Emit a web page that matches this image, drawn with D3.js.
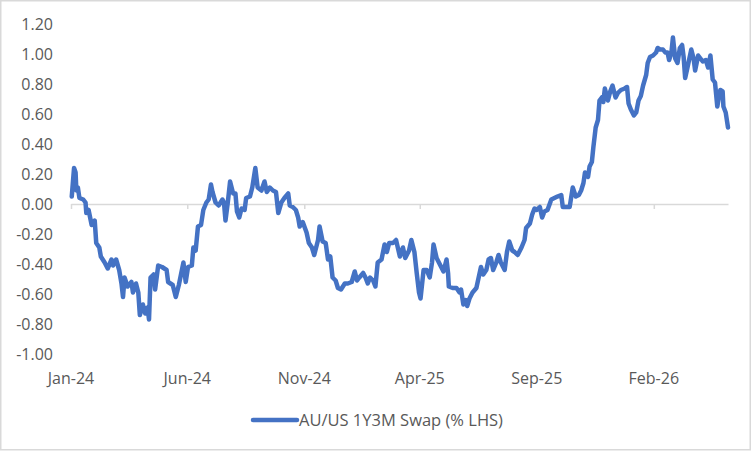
<!DOCTYPE html>
<html lang="en">
<head>
    <meta charset="UTF-8">
    <title>AU/US 1Y3M Swap</title>
    <script src="https://d3js.org/d3.v7.min.js"></script>
    <style>
        body { margin: 0; background: #ffffff; }
        text { font-family: "Open Sans", "Liberation Sans", sans-serif; fill: #595959; }
        .line { fill: none; stroke: #4472c4; stroke-width: 4.5px; stroke-linejoin: round; stroke-linecap: round; }
    </style>
</head>
<body>
    <div id="chart"></div>
    <script>
        // Series (% , by date)
        const days2024 = ["01-02","01-05","01-07","01-08","01-10","01-12","01-17","01-20","01-21","01-24","01-28",
            "02-01","02-03","02-07","02-09","02-14","02-18","02-23","02-25","02-29",
            "03-04","03-07","03-09","03-11","03-15","03-20","03-22","03-26","03-29","03-31",
            "04-04","04-07","04-10","04-12","04-14","04-18","04-20","04-24","04-29",
            "05-05","05-07","05-13","05-17","05-21","05-27","05-30",
            "06-02","06-07","06-09","06-12","06-15","06-19","06-22","06-26","06-29",
            "07-02","07-04","07-08","07-12","07-17","07-19","07-21","07-24","07-27","07-31",
            "08-03","08-05","08-08","08-11","08-15","08-17","08-22","08-25","08-29",
            "09-01","09-06","09-10","09-13","09-17","09-21","09-25","09-28",
            "10-02","10-06","10-11","10-13","10-17","10-21","10-24","10-26","10-30",
            "11-04","11-07","11-11","11-14","11-19","11-21","11-25","11-29",
            "12-02","12-05","12-08","12-12","12-15","12-19","12-24","12-28"];
        const swap2024 = [0.05,0.24,0.21,0.09,0.11,0.04,0.03,0.01,-0.06,-0.04,-0.14,
            -0.11,-0.26,-0.29,-0.35,-0.39,-0.43,-0.37,-0.41,-0.37,
            -0.44,-0.53,-0.62,-0.49,-0.55,-0.52,-0.59,-0.53,-0.59,-0.74,
            -0.67,-0.73,-0.69,-0.77,-0.49,-0.47,-0.57,-0.41,-0.42,
            -0.44,-0.52,-0.54,-0.62,-0.54,-0.39,-0.52,
            -0.42,-0.41,-0.29,-0.31,-0.15,-0.14,-0.04,0.01,0.03,
            0.13,0.08,0.01,-0.01,0.03,0.01,-0.11,0.01,0.15,0.07,
            0.07,-0.05,-0.09,-0.03,-0.04,0.04,0.05,0.11,0.24,
            0.11,0.09,0.15,0.08,0.11,0.09,0.08,-0.06,
            0.01,0.04,0.07,-0.01,-0.02,-0.04,-0.09,-0.15,-0.12,
            -0.19,-0.26,-0.29,-0.34,-0.24,-0.15,-0.25,-0.26,
            -0.37,-0.35,-0.49,-0.51,-0.56,-0.57,-0.53,-0.53];

        const days2025 = ["01-02","01-06","01-09","01-12","01-17","01-20","01-23","01-26","01-30",
            "02-02","02-05","02-10","02-14","02-17","02-20","02-25",
            "03-01","03-06","03-10","03-13","03-18","03-21","03-25","03-28","03-31",
            "04-02","04-06","04-10","04-14","04-17","04-19","04-23","04-26","04-29",
            "05-02","05-06","05-08","05-09","05-14","05-19","05-23","05-25","05-28","05-31",
            "06-02","06-05","06-09","06-14","06-17","06-20","06-23","06-27","06-30",
            "07-03","07-06","07-10","07-13","07-16","07-21","07-24","07-27","07-31",
            "08-03","08-07","08-12","08-16","08-18","08-23","08-26","08-29",
            "09-01","09-05","09-08","09-11","09-15","09-20","09-24","09-28",
            "10-03","10-05","10-09","10-14","10-18","10-22","10-26","10-29",
            "11-01","11-03","11-07","11-09","11-12","11-14","11-17","11-20","11-22","11-25","11-27","11-29",
            "12-03","12-06","12-09","12-13","12-16","12-20","12-25","12-28","12-30"];
        const swap2025 = [-0.52,-0.45,-0.51,-0.49,-0.46,-0.49,-0.53,-0.49,-0.51,
            -0.55,-0.39,-0.37,-0.27,-0.32,-0.26,-0.26,
            -0.24,-0.35,-0.29,-0.36,-0.31,-0.24,-0.32,-0.46,-0.59,
            -0.63,-0.44,-0.44,-0.49,-0.39,-0.27,-0.36,-0.39,-0.42,
            -0.45,-0.37,-0.46,-0.55,-0.56,-0.56,-0.59,-0.57,-0.67,-0.64,
            -0.68,-0.63,-0.59,-0.56,-0.49,-0.42,-0.47,-0.44,-0.37,
            -0.36,-0.44,-0.39,-0.34,-0.39,-0.44,-0.32,-0.25,-0.31,
            -0.32,-0.34,-0.29,-0.24,-0.16,-0.13,-0.07,-0.03,
            -0.04,-0.02,-0.09,-0.05,-0.04,0.03,0.04,0.05,
            0.06,-0.02,-0.02,-0.02,0.11,0.05,0.06,0.09,
            0.14,0.21,0.18,0.25,0.28,0.38,0.51,0.56,0.69,0.71,0.68,0.77,
            0.69,0.75,0.79,0.71,0.74,0.76,0.77,0.78,0.67];

        const days2026 = ["01-02","01-06","01-09","01-12","01-15","01-18","01-22","01-24","01-27","01-31",
            "02-04","02-06","02-09","02-13","02-16","02-19","02-21","02-24","02-26",
            "03-01","03-04","03-07","03-10","03-12","03-14","03-17","03-22","03-25","03-27","03-31",
            "04-03","04-06","04-10","04-13","04-16","04-19","04-22","04-25","04-27","04-29",
            "05-02","05-03","05-06","05-09"];
        const swap2026 = [0.63,0.59,0.61,0.69,0.72,0.79,0.86,0.94,0.98,0.99,
            1.01,1.04,1.03,1.03,1.01,1.01,0.96,1.01,1.11,
            0.97,0.94,1.04,1.06,0.98,0.84,0.91,1.03,0.97,0.89,0.99,
            0.97,0.95,0.96,0.91,0.99,0.83,0.81,0.65,0.71,0.76,
            0.75,0.65,0.61,0.51];

        // Axis ticks
        const xTickDates = ["2024-01-01","2024-06-01","2024-11-01","2025-04-01","2025-09-01","2026-02-01"];
        const yTicks = [-1.0,-0.8,-0.6,-0.4,-0.2,0.0,0.2,0.4,0.6,0.8,1.0,1.2];
        const seriesName = "AU/US 1Y3M Swap (% LHS)";

        const width = 752, height = 451;
        const margin = {top: 24, right: 24, bottom: 97, left: 71};

        const parseTime = d3.timeParse("%Y-%m-%d");
        const fmtMonth = d3.timeFormat("%b-%y");

        const data = [];
        [[2024, days2024, swap2024], [2025, days2025, swap2025], [2026, days2026, swap2026]].forEach(([yr, days, vals]) => {
            days.forEach((d, i) => data.push({date: parseTime(yr + "-" + d), value: vals[i]}));
        });

        const svg = d3.select("#chart").append("svg")
            .attr("width", width)
            .attr("height", height);

        // chart border
        svg.append("rect")
            .attr("x", 0.75).attr("y", 0.75)
            .attr("width", width - 2.5).attr("height", height - 2)
            .attr("fill", "none")
            .attr("stroke", "#d9d9d9")
            .attr("stroke-width", 1.5);

        const x = d3.scaleTime()
            .domain([parseTime("2024-01-01"), parseTime("2026-05-09")])
            .range([margin.left, width - margin.right]);
        const y = d3.scaleLinear()
            .domain([-1, 1.2])
            .range([height - margin.bottom, margin.top]);

        // zero line with month ticks
        const xAxis = svg.append("g")
            .attr("transform", "translate(0," + y(0) + ")")
            .call(d3.axisBottom(x)
                .tickValues(xTickDates.map(parseTime))
                .tickSize(5)
                .tickSizeOuter(0)
                .tickFormat(""));
        xAxis.select(".domain").attr("stroke", "#d9d9d9").attr("stroke-width", 1.5);
        xAxis.selectAll(".tick line").attr("stroke", "#d9d9d9").attr("stroke-width", 1.5);

        // x labels at the bottom
        svg.append("g")
            .selectAll("text")
            .data(xTickDates.map(parseTime))
            .enter().append("text")
            .attr("x", d => x(d))
            .attr("y", 384)
            .attr("text-anchor", "middle")
            .style("font-size", "16px")
            .text(d => fmtMonth(d));

        // y labels
        svg.append("g")
            .selectAll("text")
            .data(yTicks)
            .enter().append("text")
            .attr("x", 53)
            .attr("y", d => y(d))
            .attr("dy", "0.35em")
            .attr("text-anchor", "end")
            .style("font-size", "16px")
            .text(d => (Math.round(d * 100) / 100).toFixed(2));

        // the series
        const line = d3.line()
            .x(d => x(d.date))
            .y(d => y(d.value));
        svg.append("path")
            .datum(data)
            .attr("class", "line")
            .attr("d", line);

        // legend
        const legend = svg.append("g").attr("transform", "translate(253,420)");
        legend.append("line")
            .attr("x1", 0).attr("x2", 44)
            .attr("y1", 0).attr("y2", 0)
            .attr("stroke", "#4472c4")
            .attr("stroke-width", 4.5)
            .attr("stroke-linecap", "round");
        legend.append("text")
            .attr("x", 46)
            .attr("dy", "0.35em")
            .style("font-size", "16.5px")
            .text(seriesName);
    </script>
</body>
</html>
